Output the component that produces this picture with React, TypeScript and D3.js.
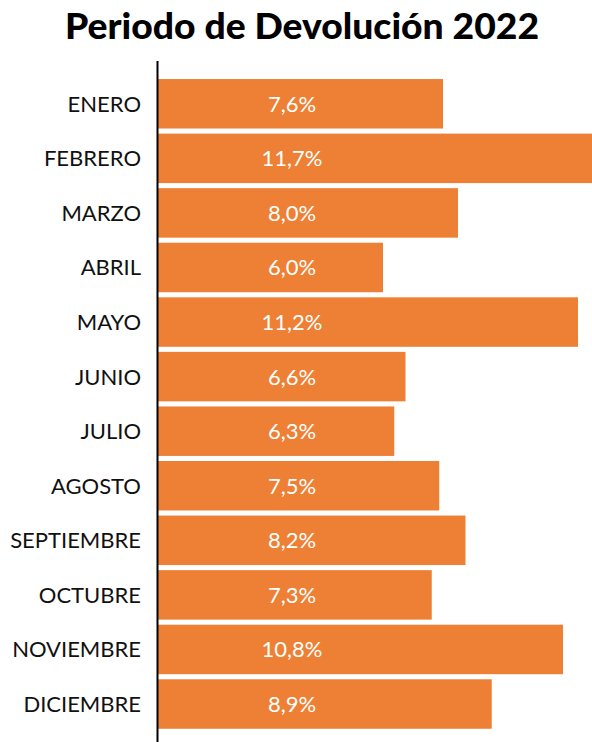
import React from "react";
import * as d3 from "d3";

const months = ["ENERO","FEBRERO","MARZO","ABRIL","MAYO","JUNIO","JULIO","AGOSTO","SEPTIEMBRE","OCTUBRE","NOVIEMBRE","DICIEMBRE"];
const values = [7.6, 11.7, 8.0, 6.0, 11.2, 6.6, 6.3, 7.5, 8.2, 7.3, 10.8, 8.9];
const title = "Periodo de Devolución 2022";

const W = 592, H = 742;
const axisX = 158;

export default function App() {
  const x = d3.scaleLinear().domain([0, 12]).range([axisX, axisX + 450]);
  const y = d3.scaleBand<string>().domain(months).range([76.5, 731.3]).paddingInner(0.093).paddingOuter(0.0465);
  const bw = y.bandwidth();
  const fmt = (v: number) => v.toFixed(1).replace(".", ",") + "%";
  return (
    <svg width={W} height={H} style={{ position: "absolute", left: 0, top: 0, background: "#fff" }}>
      <text x={302} y={39} textAnchor="middle" fontFamily="Lato, 'Open Sans', sans-serif" fontWeight={900} fontSize={36} fill="#000" textLength={474} lengthAdjust="spacingAndGlyphs">{title}</text>
      {months.map((m, i) => (
        <g key={m}>
          <rect x={x(0)} y={y(m)!} width={x(values[i]) - x(0)} height={bw} fill="#ED8034" />
          <text x={141} y={y(m)! + bw / 2 + 8} textAnchor="end" fontFamily="Lato, 'Liberation Sans', sans-serif" fontSize={22} fill="#111">{m}</text>
          <text x={292} y={y(m)! + bw / 2 + 8} textAnchor="middle" fontFamily="Lato, 'Liberation Sans', sans-serif" fontSize={22} fill="#fff">{fmt(values[i])}</text>
        </g>
      ))}
      <line x1={axisX - 0.5} x2={axisX - 0.5} y1={61} y2={H} stroke="#000" strokeWidth={2} />
    </svg>
  );
}
